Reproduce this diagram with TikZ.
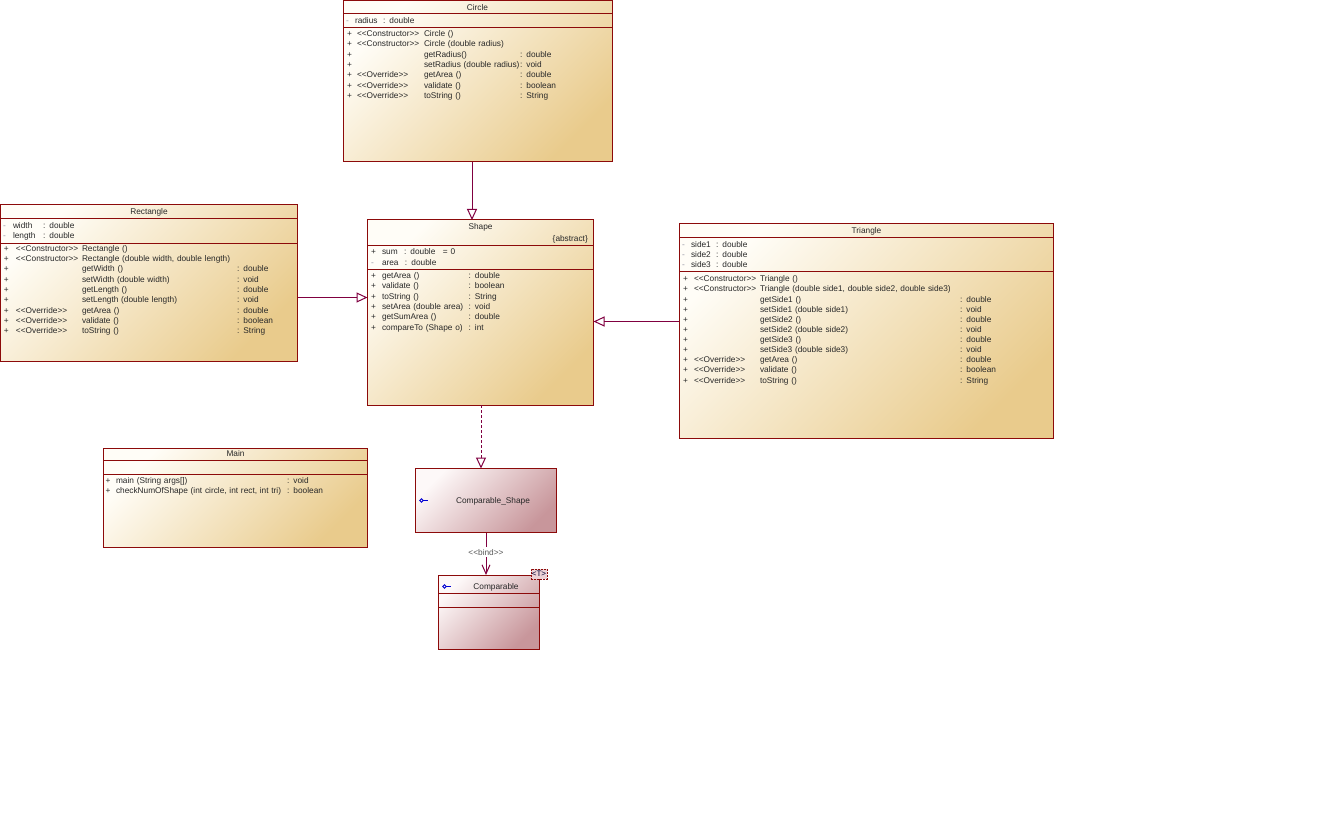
\documentclass[tikz,border=0pt]{standalone}
\usepackage{fontspec}
\setmainfont{Liberation Sans}
\usetikzlibrary{matrix,arrows.meta,calc}
\definecolor{bord}{RGB}{140,10,10}
\definecolor{conn}{RGB}{128,0,64}
\definecolor{clsA}{RGB}{255,253,247}
\definecolor{clsB}{RGB}{233,203,140}
\definecolor{ifA}{RGB}{253,248,248}
\definecolor{ifB}{RGB}{200,150,155}
\definecolor{txtc}{RGB}{40,40,40}
\definecolor{minus}{RGB}{150,150,165}
\definecolor{iconc}{RGB}{0,0,210}
\definecolor{tmplc}{RGB}{236,210,214}
\newcommand\stereo[1]{<{}<#1>{}>}
\begin{document}
\begin{tikzpicture}[x=1pt,y=-1pt,
  cls/.style={draw=bord, line width=1pt, top color=clsA, bottom color=clsB, shading angle=45, inner sep=0pt, outer sep=0pt, anchor=north west},
  ifc/.style={draw=bord, line width=1pt, top color=ifA, bottom color=ifB, shading angle=45, inner sep=0pt, outer sep=0pt, anchor=north west},
  sepline/.style={draw=bord, line width=1pt},
  cell/.style={font=\fontsize{8.3}{10}\selectfont, text=txtc, inner xsep=0pt, text height=7.2pt, text depth=1pt, align=left},
  ttl/.style={cell, inner ysep=0pt},
  mtx/.style={matrix of nodes, anchor=north west, inner sep=0pt, outer sep=0pt, row sep=0pt, column sep=0pt, nodes={cell, anchor=west, inner ysep=#1}},
  cw1/.style={column 1/.style={nodes={text width=#1}}},
  cw2/.style={column 2/.style={nodes={text width=#1}}},
  cw3/.style={column 3/.style={nodes={text width=#1}}},
  cw4/.style={column 4/.style={nodes={text width=#1}}},
  inh/.style={draw=conn, line width=1pt, -{Triangle[open,length=11pt,width=10pt]}},
  realz/.style={inh, dash pattern=on 3pt off 2pt},
  bindarrow/.style={draw=conn, line width=1pt, -{Straight Barb[length=9pt,width=8pt]}},
  bindlbl/.style={cell, fill=white, inner ysep=0.5pt, inner xsep=0.5pt, text=black!65},
  tmpl/.style={draw=bord, line width=0.8pt, dash pattern=on 2pt off 1pt, fill=tmplc, minimum width=16pt, minimum height=10pt, inner sep=0pt, font=\fontsize{8}{8}\selectfont, text=black!80!blue}
]
\useasboundingbox (0,0) rectangle (1317,813);

% ---------- boxes ----------
\node[cls, minimum width=268.5pt, minimum height=161.5pt] (circle) at (343.5,0.5) {};
\node[cls, minimum width=297pt, minimum height=156pt] (rect) at (0.5,205) {};
\node[cls, minimum width=226pt, minimum height=185pt] (shape) at (367.5,220) {};
\node[cls, minimum width=374.5pt, minimum height=214pt] (tri) at (679,224) {};
\node[cls, minimum width=264pt, minimum height=99pt] (main) at (103.5,448) {};
\node[ifc, minimum width=141pt, minimum height=64pt] (cshape) at (415.5,468.5) {};
\node[ifc, minimum width=100.5pt, minimum height=74pt] (comp) at (438.5,575) {};

% ---------- separators ----------
\draw[sepline] (343.5,13.5) -- (612,13.5);
\draw[sepline] (343.5,28) -- (612,28);
\draw[sepline] (0.5,218.7) -- (297.5,218.7);
\draw[sepline] (0.5,243.3) -- (297.5,243.3);
\draw[sepline] (367.5,245.7) -- (593.5,245.7);
\draw[sepline] (367.5,269.7) -- (593.5,269.7);
\draw[sepline] (679,237.3) -- (1053.5,237.3);
\draw[sepline] (679,271.3) -- (1053.5,271.3);
\draw[sepline] (103.5,460.7) -- (367.5,460.7);
\draw[sepline] (103.5,474.7) -- (367.5,474.7);
\draw[sepline] (438.5,593) -- (539,593);
\draw[sepline] (438.5,607) -- (539,607);

% ---------- titles ----------
\node[ttl] (circT) at (477.5,7) {Circle};
\node[ttl] (rectT) at (149,211.3) {Rectangle};
\node[ttl] (shapeT) at (480.5,226) {Shape};
\node[ttl, anchor=east] (shapeAbs) at (588,238.7) {\{abstract\}};
\node[ttl] (triT) at (866.5,230.3) {Triangle};
\node[ttl] (mainT) at (235.5,453.3) {Main};

% ---------- Circle ----------
\matrix[mtx=1.05, cw1=9pt, cw2=28pt, cw3=60pt] (circA) at (346,15.15) {
|[text=minus]| - & radius & : double \\
};
\matrix[mtx=1.1, cw1=10pt, cw2=67pt, cw3=96pt, cw4=60pt] (circM) at (347,28.1) {
+ & \stereo{Constructor} & Circle () & \\
+ & \stereo{Constructor} & Circle (double radius) & \\
+ & & getRadius() & : double \\
+ & & setRadius (double radius) & : void \\
+ & \stereo{Override} & getArea () & : double \\
+ & \stereo{Override} & validate () & : boolean \\
+ & \stereo{Override} & toString () & : String \\
};

% ---------- Rectangle ----------
\matrix[mtx=0.9, cw1=10pt, cw2=30pt, cw3=60pt] (rectA) at (3,220.7) {
|[text=minus]| - & width & : double \\
|[text=minus]| - & length & : double \\
};
\matrix[mtx=1.065, cw1=12pt, cw2=66pt, cw3=155pt, cw4=55pt] (rectM) at (4,242.8) {
+ & \stereo{Constructor} & Rectangle () & \\
+ & \stereo{Constructor} & Rectangle (double width, double length) & \\
+ & & getWidth () & : double \\
+ & & setWidth (double width) & : void \\
+ & & getLength () & : double \\
+ & & setLength (double length) & : void \\
+ & \stereo{Override} & getArea () & : double \\
+ & \stereo{Override} & validate () & : boolean \\
+ & \stereo{Override} & toString () & : String \\
};

% ---------- Shape ----------
\matrix[mtx=1.25, cw1=11pt, cw2=120pt] (shapeA) at (371,246) {
+ & \makebox[22pt][l]{sum}\makebox[39pt][l]{: double}= 0 \\
|[text=minus]| - & \makebox[23pt][l]{area}: double \\
};
\matrix[mtx=1.075, cw1=11pt, cw2=86.5pt, cw3=50pt] (shapeM) at (371,270.1) {
+ & getArea () & : double \\
+ & validate () & : boolean \\
+ & toString () & : String \\
+ & setArea (double area) & : void \\
+ & getSumArea () & : double \\
+ & compareTo (Shape o) & : int \\
};

% ---------- Triangle ----------
\matrix[mtx=0.8, cw1=9pt, cw2=25pt, cw3=60pt] (triA) at (682,239.8) {
|[text=minus]| - & side1 & : double \\
|[text=minus]| - & side2 & : double \\
|[text=minus]| - & side3 & : double \\
};
\matrix[mtx=0.965, cw1=11pt, cw2=66pt, cw3=200pt, cw4=60pt] (triM) at (683,273.6) {
+ & \stereo{Constructor} & Triangle () & \\
+ & \stereo{Constructor} & Triangle (double side1, double side2, double side3) & \\
+ & & getSide1 () & : double \\
+ & & setSide1 (double side1) & : void \\
+ & & getSide2 () & : double \\
+ & & setSide2 (double side2) & : void \\
+ & & getSide3 () & : double \\
+ & & setSide3 (double side3) & : void \\
+ & \stereo{Override} & getArea () & : double \\
+ & \stereo{Override} & validate () & : boolean \\
+ & \stereo{Override} & toString () & : String \\
};

% ---------- Main ----------
\matrix[mtx=0.9, cw1=10.5pt, cw2=171pt, cw3=60pt] (mainM) at (105.5,475.7) {
+ & main (String args[]) & : void \\
+ & checkNumOfShape (int circle, int rect, int tri) & : boolean \\
};

% ---------- interfaces ----------
\node[ttl] (cshapeL) at (493,500) {Comparable\_Shape};
\draw[draw=iconc, line width=0.8pt] (423.3,500.5) -- (427.5,500.5);
\draw[draw=iconc, line width=0.8pt] (421.5,500.5) circle[radius=1.8];
\node[ttl] (compL) at (496,586) {Comparable};
\draw[draw=iconc, line width=0.8pt] (446.3,586.5) -- (450.5,586.5);
\draw[draw=iconc, line width=0.8pt] (444.5,586.5) circle[radius=1.8];
\node[tmpl] (tparam) at (539,574) {<T>};

% ---------- connectors ----------
\coordinate (cx) at (472,0);
\draw[inh] (circle.south -| cx) -- (shape.north -| cx);
\coordinate (ry) at (0,297.5);
\draw[inh] (rect.east |- ry) -- (shape.west |- ry);
\coordinate (ty) at (0,321.5);
\draw[inh] (tri.west |- ty) -- (shape.east |- ty);
\coordinate (sx) at (481,0);
\draw[realz] (shape.south -| sx) -- (cshape.north -| sx);
\coordinate (bx) at (486,0);
\draw[bindarrow] (cshape.south -| bx) -- node[bindlbl, pos=0.46] (bindL) {\stereo{bind}} (comp.north -| bx);
\end{tikzpicture}
\end{document}
